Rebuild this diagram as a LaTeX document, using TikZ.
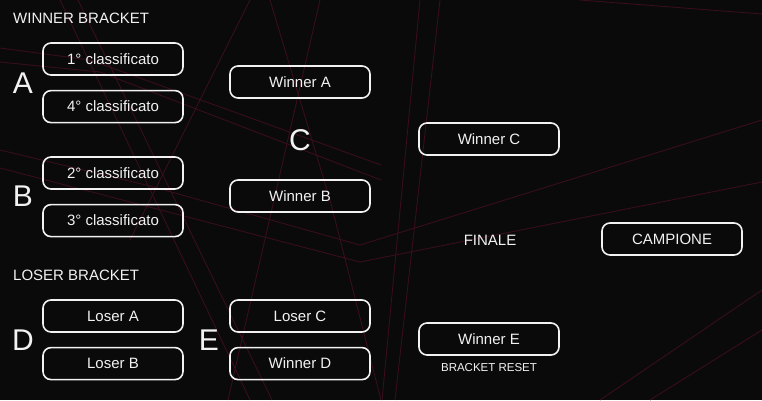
\documentclass[tikz,border=0pt]{standalone}
\usepackage{fontspec}
\setmainfont{Liberation Sans}
\usetikzlibrary{positioning}
\definecolor{bg}{HTML}{0B0A0B}
\definecolor{streak}{HTML}{3C0E1D}
\definecolor{ink}{HTML}{F2F2F2}
\tikzset{
  slot/.style={draw=ink, line width=1.6pt, rounded corners=8pt, text=ink, font=\fontsize{15}{18}\selectfont, minimum width=140pt, minimum height=32pt, inner sep=0pt},
  grp/.style={text=ink, font=\fontsize{30}{36}\selectfont, inner sep=0pt},
  hdr/.style={text=ink, font=\fontsize{15}{18}\selectfont, inner sep=0pt, anchor=west},
  note/.style={text=ink, font=\fontsize{11.5}{13}\selectfont, inner sep=0pt},
  streakline/.style={streak, line width=0.8pt},
}
\begin{document}
\begin{tikzpicture}[x=1pt, y=-1pt, node distance=14pt]
\useasboundingbox (0,0) rectangle (762,400);
\fill[bg] (0,0) rectangle (762,400);
% faint background streaks
\draw[streakline] (60,0) -- (250,400);
\draw[streakline] (78,0) -- (272,400);
\draw[streakline] (0,48) -- (90,60) -- (381,165);
\draw[streakline] (0,62) -- (100,72) -- (381,180);
\draw[streakline] (0,150) -- (150,186) -- (360,245) -- (762,120);
\draw[streakline] (0,168) -- (360,262) -- (762,182);
\draw[streakline] (440,0) -- (395,400);
\draw[streakline] (420,0) -- (382,400);
\draw[streakline] (320,0) -- (228,400);
\draw[streakline] (250,0) -- (130,240);
\draw[streakline] (270,0) -- (330,200) -- (381,400);
\draw[streakline] (580,0) -- (762,14);
\draw[streakline] (600,400) -- (762,290);
\draw[streakline] (650,400) -- (762,330);

% winner bracket
\node[hdr] (wb) at (13,18) {WINNER BRACKET};
\node[slot] (p1) at (113,59) {1° classificato};
\node[slot, below=of p1] (p4) {4° classificato};
\node[slot] (p2) at (113,173) {2° classificato};
\node[slot, below=of p2] (p3) {3° classificato};
\node[grp] (ga) at (23,83) {A};
\node[grp] (gb) at (23,196) {B};

\node[slot] (wa) at (300,82) {Winner A};
\node[slot] (wbb) at (300,196) {Winner B};
\node[grp] (gc) at (300,140) {C};

\node[slot] (wc) at (489,139) {Winner C};

% loser bracket
\node[hdr] (lb) at (13,275) {LOSER BRACKET};
\node[slot] (la) at (113,316) {Loser A};
\node[slot, below=of la] (lbb) {Loser B};
\node[grp] (gd) at (23,340) {D};

\node[slot] (lc) at (300,316) {Loser C};
\node[slot, below=of lc] (wd) {Winner D};
\node[grp] (ge) at (209,340) {E};

\node[slot] (we) at (489,339) {Winner E};
\node[note, below=7pt of we] (reset) {BRACKET RESET};

% final
\node[text=ink, font=\fontsize{15}{18}\selectfont] (fin) at (490,240) {FINALE};
\node[slot] (champ) at (672,239) {CAMPIONE};
\end{tikzpicture}
\end{document}
